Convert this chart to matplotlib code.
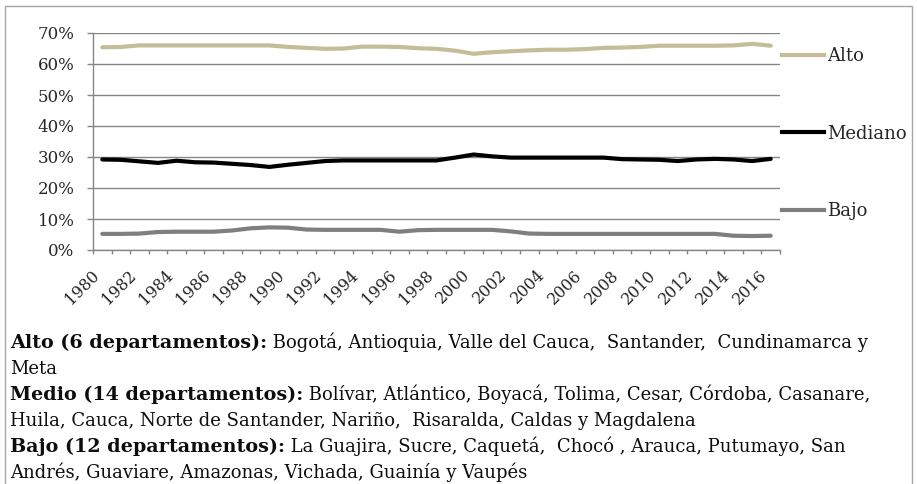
import numpy as np
import matplotlib.pyplot as plt
from matplotlib.patches import Rectangle
from matplotlib.lines import Line2D

plt.rcParams['font.family'] = ['DejaVu Serif']

# share of each group of departamentos, 1980-2016
years = list(range(1980, 2017))
alto = [65.4, 65.5, 66.0, 66.0, 66.0, 66.0, 66.0, 66.0, 66.0, 66.0,
        65.5, 65.2, 64.9, 65.0, 65.6, 65.6, 65.5, 65.1, 64.9, 64.3,
        63.3, 63.8, 64.1, 64.4, 64.6, 64.6, 64.8, 65.2, 65.3, 65.5,
        65.9, 65.9, 65.9, 65.9, 66.0, 66.5, 65.9]
mediano = [29.2, 29.1, 28.6, 28.1, 28.8, 28.3, 28.2, 27.8, 27.4, 26.8,
           27.5, 28.1, 28.7, 28.9, 28.9, 28.9, 28.9, 28.9, 28.9, 29.8,
           30.8, 30.2, 29.8, 29.8, 29.8, 29.8, 29.8, 29.8, 29.3, 29.2,
           29.1, 28.7, 29.2, 29.4, 29.2, 28.7, 29.4]
bajo = [5.2, 5.2, 5.3, 5.8, 5.9, 5.9, 5.9, 6.3, 7.0, 7.3,
        7.2, 6.6, 6.5, 6.5, 6.5, 6.5, 5.9, 6.4, 6.5, 6.5,
        6.5, 6.5, 6.0, 5.3, 5.2, 5.2, 5.2, 5.2, 5.2, 5.2,
        5.2, 5.2, 5.2, 5.2, 4.6, 4.5, 4.6]

series = [("Alto", alto, "#c4bd97"),
          ("Mediano", mediano, "#000000"),
          ("Bajo", bajo, "#7f7f7f")]

notes = [
    ("Alto (6 departamentos):",
     " Bogotá, Antioquia, Valle del Cauca,  Santander,  Cundinamarca y"),
    (None, "Meta"),
    ("Medio (14 departamentos):",
     " Bolívar, Atlántico, Boyacá, Tolima, Cesar, Córdoba, Casanare,"),
    (None, "Huila, Cauca, Norte de Santander, Nariño,  Risaralda, Caldas y Magdalena"),
    ("Bajo (12 departamentos):",
     " La Guajira, Sucre, Caquetá,  Chocó , Arauca, Putumayo, San"),
    (None, "Andrés, Guaviare, Amazonas, Vichada, Guainía y Vaupés"),
]

W, H = 917, 484
grid_col = "#868686"
text_col = "#262626"
note_col = "#0d0d0d"

fig = plt.figure(figsize=(W / 100, H / 100), dpi=100)
ax = fig.add_axes([93 / W, 1 - 250 / H, (780 - 93) / W, (250 - 33) / H])

x = np.arange(len(years))
handles = []
for name, vals, col in series:
    ax.plot(x, np.array(vals) / 100, color=col, lw=3.0,
            solid_joinstyle="round", solid_capstyle="round", zorder=3)
    handles.append(Line2D([], [], color=col, lw=3.0, label=name))

ax.set_xlim(-0.5, len(years) - 0.5)
ax.set_ylim(0, 0.7)

# y axis: percent labels and horizontal gridlines
yt = np.arange(0, 0.71, 0.1)
ax.set_yticks(yt)
ax.set_yticklabels([f"{int(round(v * 100))}%" for v in yt])
ax.yaxis.grid(True, color=grid_col, lw=1.0)
ax.tick_params(axis="y", direction="out", length=4.3, width=1.0,
               color=grid_col, pad=9, labelsize=12, labelcolor=text_col)

# x axis: tick marks between categories, labels every other year
ax.set_xticks(np.arange(-0.5, len(years), 1.0))
ax.set_xticklabels([])
ax.tick_params(axis="x", which="major", direction="out", length=3,
               width=1.0, color=grid_col)
ax.set_xticks(x[::2], minor=True)
ax.set_xticklabels([str(y) for y in years[::2]], minor=True,
                   rotation=45, ha="right", va="top")
ax.tick_params(axis="x", which="minor", length=0, pad=12,
               labelsize=11.5, labelcolor=text_col)

for s in ["top", "right"]:
    ax.spines[s].set_visible(False)
for s in ["left", "bottom"]:
    ax.spines[s].set_color(grid_col)
    ax.spines[s].set_linewidth(1.0)
ax.set_axisbelow(True)

fig.legend(handles=handles, loc="upper left",
           bbox_to_anchor=(782 / W, 1 - 47 / H), frameon=False,
           fontsize=13, handlelength=2.3, handletextpad=0.2,
           labelspacing=3.3, borderpad=0, borderaxespad=0,
           labelcolor=text_col)

# notes under the chart, bold group name followed by plain list
base = 348
for i, (bold, plain) in enumerate(notes):
    yb = 1 - (base + 26 * i) / H
    if bold is None:
        fig.text(10 / W, yb, plain, fontsize=13.0, va="baseline",
                 color=note_col)
    else:
        t = fig.text(10 / W, yb, bold, fontsize=13.8, va="baseline",
                     fontweight="bold", color=note_col)
        fig.add_artist(plt.Annotation(plain, xy=(1, 0), xycoords=t,
                                      va="bottom", ha="left",
                                      fontsize=13.0, color=note_col))

fig.patches.append(Rectangle((5 / W, -0.05), 907 / W, 1.05 - 6 / H,
                             transform=fig.transFigure, fill=False,
                             edgecolor="#a6a6a6", lw=1.0))

fig.savefig("out.png", dpi=100)
